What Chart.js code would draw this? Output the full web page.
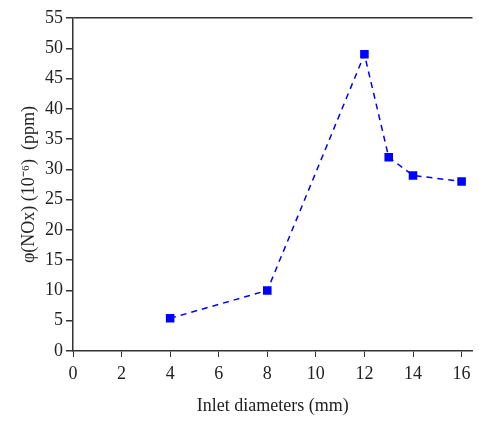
<!DOCTYPE html>
<html>
<head>
<meta charset="utf-8">
<script src="https://cdn.jsdelivr.net/npm/chart.js@4"></script>
<style>
  html, body { margin: 0; padding: 0; background: #fff; }
  #wrap { width: 479px; height: 421px; }
</style>
</head>
<body>
<div id="wrap"><canvas id="noxChart" width="479" height="421"></canvas></div>
<script>
// inlet diameter (mm) vs NOx concentration (ppm)
var diameters = [4, 8, 12, 13, 14, 16];
var noxValues = [5.4, 10, 49, 32, 29, 28];
var xTickValues = [0, 2, 4, 6, 8, 10, 12, 14, 16];

var points = diameters.map(function (d, i) { return { x: d, y: noxValues[i] }; });

var axisColor = '#333';
var textColor = '#222';
var serif = "'Liberation Serif', 'Times New Roman', serif";

var ctx = document.getElementById('noxChart').getContext('2d');
var noxChart = new Chart(ctx, {
    type: 'line',
    data: {
        datasets: [{
            label: 'NOx',
            data: points,
            borderColor: '#0000ff',
            backgroundColor: '#0000ff',
            borderWidth: 1.5,
            borderDash: [6, 5],
            pointStyle: 'rect',
            pointRadius: 5,
            pointHoverRadius: 5,
            tension: 0,
            fill: false
        }]
    },
    options: {
        responsive: false,
        animation: false,
        layout: { padding: { top: 18, right: 0, left: 0, bottom: 0 } },
        plugins: {
            legend: { display: false },
            tooltip: { enabled: false }
        },
        scales: {
            x: {
                type: 'linear',
                min: 0,
                max: 16.45,
                afterBuildTicks: function (scale) {
                    scale.ticks = xTickValues.map(function (v) { return { value: v }; });
                },
                afterFit: function (scale) { scale.height = 70; },
                ticks: {
                    autoSkip: false,
                    color: textColor,
                    font: { family: serif, size: 18 },
                    padding: 6,
                    maxRotation: 0
                },
                grid: {
                    drawOnChartArea: false,
                    tickLength: 6,
                    color: axisColor
                },
                border: { color: axisColor, width: 1.5 },
                title: {
                    display: true,
                    text: 'Inlet diameters (mm)',
                    color: textColor,
                    font: { family: serif, size: 18 },
                    padding: { top: 7 }
                }
            },
            y: {
                min: 0,
                max: 55,
                afterFit: function (scale) { scale.width = 73; },
                ticks: {
                    stepSize: 5,
                    color: textColor,
                    font: { family: serif, size: 18 },
                    padding: 3
                },
                grid: {
                    drawOnChartArea: true,
                    tickLength: 7,
                    color: function (c) { return c.tick && c.tick.value === 55 ? axisColor : 'rgba(0,0,0,0)'; },
                    tickColor: axisColor,
                    lineWidth: 1.5
                },
                border: { color: axisColor, width: 1.5 },
                title: {
                    display: true,
                    text: 'φ(NOx) (10⁻⁶)  (ppm)',
                    color: textColor,
                    font: { family: serif, size: 18 },
                    padding: { top: 18, bottom: 4 }
                }
            }
        }
    }
});
</script>
</body>
</html>
